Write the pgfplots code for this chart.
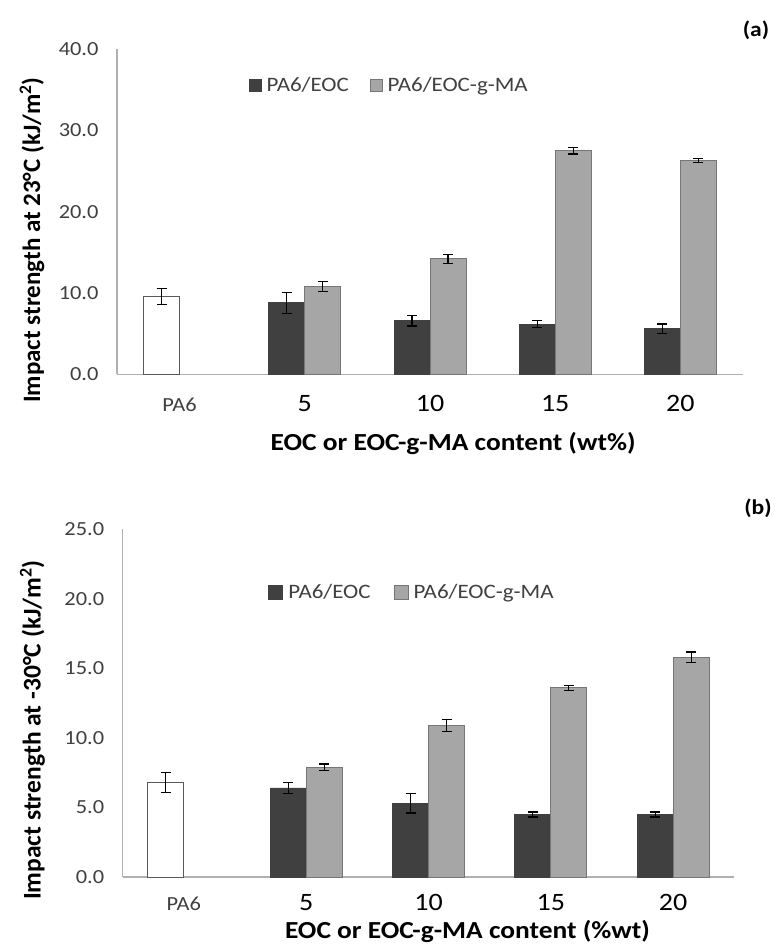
\documentclass[border=0pt]{standalone}
\usepackage{fontspec}
\setmainfont{Carlito}[FakeStretch=1.12]
\newfontfamily\vfont{Carlito}
\usepackage{pgfplots}
\pgfplotsset{compat=1.18}
\usepackage{pgfplotstable}

\definecolor{darkbar}{HTML}{404040}
\definecolor{lightbar}{HTML}{A6A6A6}
\definecolor{lightedge}{HTML}{767676}
\definecolor{whiteedge}{HTML}{595959}
\definecolor{axisgray}{HTML}{B0B0B0}
\definecolor{ticktext}{HTML}{404040}

% Impact strength at 23 C (kJ/m^2): x = category index, y = mean, e = error
\pgfplotstableread{
x y e
0 9.6 1.0
}\neatA
\pgfplotstableread{
x y e
1 8.8 1.3
2 6.6 0.65
3 6.2 0.4
4 5.6 0.6
}\eocA
\pgfplotstableread{
x y e
1 10.8 0.6
2 14.2 0.55
3 27.5 0.4
4 26.3 0.2
}\maA

% Impact strength at -30 C (kJ/m^2)
\pgfplotstableread{
x y e
0 6.8 0.7
}\neatB
\pgfplotstableread{
x y e
1 6.4 0.4
2 5.3 0.7
3 4.5 0.18
4 4.5 0.18
}\eocB
\pgfplotstableread{
x y e
1 7.9 0.22
2 10.9 0.42
3 13.6 0.17
4 15.8 0.38
}\maB

\tikzset{
  ylab/.style 2 args={at={#1}, rotate=90, anchor=center,
    font=\vfont\bfseries\fontsize{#2}{#2}\selectfont},
  xlab/.style={at={#1}, anchor=base, inner sep=1pt,
    font=\bfseries\fontsize{24.5}{29}\selectfont},
}

\pgfplotsset{
  impact/.style={
    scale only axis,
    ybar,
    bar width=36pt,
    xmin=-0.5, xmax=4.5,
    ymin=0,
    axis x line*=bottom, axis y line*=left,
    axis line style={draw=axisgray, line width=1.3pt, -},
    major tick length=0pt,
    xtick={0,...,4},
    xticklabels={{\fontsize{20}{24}\selectfont\color{ticktext}PA6},5,10,15,20},
    xticklabel style={font=\fontsize{25}{30}\selectfont, anchor=base, yshift=-37pt,
      text depth=0pt, inner sep=1pt},
    yticklabel style={font=\fontsize{20}{24}\selectfont, text=ticktext, xshift=-15pt,
      /pgf/number format/.cd, fixed, fixed zerofill, precision=1, assume math mode=true},
    legend columns=2,
    legend style={draw=none, fill=none, inner sep=0pt, anchor=west,
      font=\fontsize{20.5}{24}\selectfont, text=ticktext,
      /tikz/every odd column/.append style={column sep=3pt},
      /tikz/every even column/.append style={column sep=19pt}},
    legend cell align=left,
  },
  errstyle/.style={error bars/.cd, y dir=both, y explicit,
    error bar style={black, line width=1.2pt},
    error mark=-,
    error mark options={rotate=90, black, line width=1.2pt, mark size=5pt}},
}

\begin{document}
\begin{tikzpicture}
\path[use as bounding box] (0,0) rectangle (776pt,947pt);

% (a) room temperature
\begin{axis}[impact,
  at={(117pt,572.5pt)}, anchor=south west,
  width=626pt, height=325.5pt,
  ymax=40, ytick={0,10,...,40},
  legend style={at={(0.21,0.889)}},
  legend image code/.code={\draw[#1] (0pt,-6pt) rectangle (12pt,6pt);},
  ylabel={Impact strength at 23\textdegree C (kJ/m\textsuperscript{2})},
  every axis y label/.style={ylab={(axis description cs:-0.1358,0.413)}{25}},
  xlabel={EOC or EOC-g-MA content (wt\%)},
  every axis x label/.style={xlab={(axis description cs:0.537,-0.235)}},
]
\addplot[forget plot, bar shift=-18pt, fill=white, draw=whiteedge, line width=0.9pt, errstyle]
  table[x=x, y=y, y error=e] {\neatA};
\addplot[bar shift=-18pt, fill=darkbar, draw=darkbar, line width=0.9pt, errstyle]
  table[x=x, y=y, y error=e] {\eocA};
\addplot[bar shift=18pt, fill=lightbar, draw=lightedge, line width=0.9pt, errstyle]
  table[x=x, y=y, y error=e] {\maA};
\legend{PA6/EOC, PA6/EOC-g-MA}
\end{axis}

% (b) low temperature
\begin{axis}[impact,
  at={(122.7pt,70pt)}, anchor=south west,
  width=611.6pt, height=347.7pt,
  ymax=25, ytick={0,5,...,25},
  xticklabel style={yshift=4pt},
  legend style={at={(0.238,0.8197)},
    /tikz/every even column/.append style={column sep=21pt}},
  legend image code/.code={\draw[#1] (0pt,-7pt) rectangle (14pt,7pt);},
  ylabel={Impact strength at -30\textdegree C (kJ/m\textsuperscript{2})},
  every axis y label/.style={ylab={(axis description cs:-0.1475,0.4228)}{25.5}},
  xlabel={EOC or EOC-g-MA content (\%wt)},
  every axis x label/.style={xlab={(axis description cs:0.5638,-0.1755)}},
]
\addplot[forget plot, bar shift=-18pt, fill=white, draw=whiteedge, line width=0.9pt, errstyle]
  table[x=x, y=y, y error=e] {\neatB};
\addplot[bar shift=-18pt, fill=darkbar, draw=darkbar, line width=0.9pt, errstyle]
  table[x=x, y=y, y error=e] {\eocB};
\addplot[bar shift=18pt, fill=lightbar, draw=lightedge, line width=0.9pt, errstyle]
  table[x=x, y=y, y error=e] {\maB};
\legend{PA6/EOC, PA6/EOC-g-MA}
\end{axis}

\node[font=\bfseries\fontsize{21}{25}\selectfont] at (756pt,917pt) {(a)};
\node[font=\bfseries\fontsize{21}{25}\selectfont] at (758pt,439pt) {(b)};
\end{tikzpicture}
\end{document}
